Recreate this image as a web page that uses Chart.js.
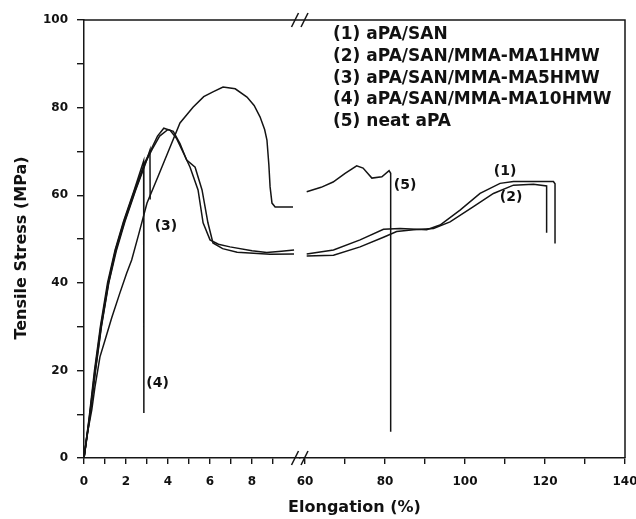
<!DOCTYPE html>
<html>
<head>
<meta charset="utf-8">
<script src="https://cdn.jsdelivr.net/npm/chart.js@4/dist/chart.umd.min.js"></script>
<style>
  html, body { margin: 0; padding: 0; background: #fff; }
</style>
</head>
<body>
<canvas id="myChart" width="636" height="519"></canvas>
<script>
// legend names
let nomes = ['(1) aPA/SAN', '(2) aPA/SAN/MMA-MA1HMW', '(3) aPA/SAN/MMA-MA5HMW', '(4) aPA/SAN/MMA-MA10HMW', '(5) neat aPA'];

// elongation (%) / tensile stress (MPa), left part of the broken axis (0-10 %)
let x1Esq = [0, 0.25, 0.52, 0.8, 1.15, 1.5, 1.9, 2.4, 2.9, 3.2, 3.5, 3.8, 4.1, 4.4, 4.75, 5.05, 5.43, 5.67, 6.0, 6.4, 6.95, 8.0, 8.7, 9.4, 10.0];
let y1Esq = [0, 9, 20, 30, 40, 47.5, 54, 61, 67.5, 70.5, 73.5, 75.3, 74.8, 73, 69.5, 66.4, 61.2, 53.7, 49.8, 48.8, 48.2, 47.3, 46.9, 47.2, 47.5];
let x2Esq = [0, 0.26, 0.54, 0.82, 1.17, 1.52, 1.93, 2.43, 2.93, 3.25, 3.6, 4.0, 4.25, 4.57, 4.89, 5.29, 5.62, 5.9, 6.14, 6.6, 7.29, 8.86, 10.0];
let y2Esq = [0, 9, 20, 30, 40, 47.5, 54, 61, 67.5, 70.5, 73.5, 75.0, 74.6, 71.8, 68.0, 66.4, 61.2, 53.7, 49.1, 47.8, 47.0, 46.5, 46.6];
let x3Esq = [0, 0.27, 0.55, 0.83, 1.18, 1.55, 1.95, 2.45, 2.95, 3.14, 3.15];
let y3Esq = [0, 9, 20, 30, 40, 47.5, 54, 61, 67.5, 70.3, 59];
let x4Esq = [0, 0.24, 0.5, 0.78, 1.12, 1.48, 1.88, 2.38, 2.84, 2.85];
let y4Esq = [0, 9, 20, 30, 40, 47.5, 54, 61, 67.8, 10.3];
let x5Esq = [0, 0.13, 0.37, 0.52, 0.76, 1.0, 1.32, 1.71, 2.03, 2.27, 2.6, 3.0, 3.52, 4.1, 4.57, 5.19, 5.7, 6.14, 6.62, 7.2, 7.76, 8.1, 8.38, 8.6, 8.71, 8.8, 8.86, 8.95, 9.1, 9.95];
let y5Esq = [0, 4.8, 11, 16.2, 23.1, 26.9, 32, 37.7, 42.2, 45.2, 51, 58.2, 64.2, 71, 76.5, 80.1, 82.5, 83.6, 84.7, 84.3, 82.4, 80.5, 77.9, 75, 72.6, 67, 61.9, 58.2, 57.3, 57.3];

// right part of the broken axis (60-140 %)
let x1Dir = [60.4, 67.1, 73.75, 79.6, 83.75, 90.4, 93.75, 98.75, 103.75, 108.75, 112.1, 122.1, 122.5, 122.5];
let y1Dir = [46.6, 47.5, 49.8, 52.2, 52.4, 52.1, 53.2, 56.6, 60.4, 62.7, 63.1, 63.1, 62.6, 49.0];
let x2Dir = [60.4, 67.1, 73.75, 79.6, 82.9, 87.1, 92.1, 96.25, 102.1, 107.1, 112.1, 117.1, 120.4, 120.4];
let y2Dir = [46.1, 46.3, 48.2, 50.4, 51.7, 52.1, 52.4, 53.9, 57.4, 60.4, 62.3, 62.5, 62.1, 51.4];
let x5Dir = [60.4, 64, 67, 70, 72.9, 74.5, 76.7, 79.2, 81.0, 81.4, 81.4];
let y5Dir = [60.8, 61.8, 63, 65, 66.7, 66.2, 63.9, 64.2, 65.6, 65.0, 6.0];

// tick labels
let ticksEsq = [0, 1, 2, 3, 4, 5, 6, 7, 8, 9];
let ticksDir = [60, 70, 80, 90, 100, 110, 120, 130, 140];

const pts = (xs, ys) => xs.map((x, i) => ({ x: x, y: ys[i] }));
const linha = (label, xs, ys, eixo) => ({
    label: label,
    data: pts(xs, ys),
    xAxisID: eixo,
    borderColor: '#141414',
    borderWidth: 1.5,
    pointRadius: 0,
    fill: false,
    tension: 0
});

let dados = {
    datasets: [
        linha(nomes[0], x1Esq, y1Esq, 'xl'),
        linha(nomes[1], x2Esq, y2Esq, 'xl'),
        linha(nomes[2], x3Esq, y3Esq, 'xl'),
        linha(nomes[3], x4Esq, y4Esq, 'xl'),
        linha(nomes[4], x5Esq, y5Esq, 'xl'),
        linha(nomes[0], x1Dir, y1Dir, 'xr'),
        linha(nomes[1], x2Dir, y2Dir, 'xr'),
        linha(nomes[4], x5Dir, y5Dir, 'xr')
    ]
};

const fonte = { family: "'DejaVu Sans', sans-serif", size: 12, weight: 'bold' };
const grade = { drawOnChartArea: false, tickLength: 6, color: '#161616', lineWidth: 1.4 };
const borda = { color: '#161616', width: 1.5 };

// frame, axis break marks, legend text and curve numbers
const enfeites = {
    id: 'enfeites',
    afterDraw(chart) {
        const { ctx, chartArea: a, scales } = chart;
        ctx.save();
        ctx.strokeStyle = '#161616';
        ctx.lineWidth = 1.5;
        ctx.beginPath();
        ctx.moveTo(a.left, a.top);
        ctx.lineTo(a.right, a.top);
        ctx.lineTo(a.right, a.bottom);
        ctx.stroke();

        const bx = scales.xr.left;
        [a.top, a.bottom].forEach(yy => {
            [-4.5, 5].forEach(dx => {
                ctx.beginPath();
                ctx.moveTo(bx + dx - 3.5, yy + 7);
                ctx.lineTo(bx + dx + 3.5, yy - 7);
                ctx.stroke();
            });
        });

        ctx.fillStyle = '#111';
        ctx.textBaseline = 'middle';
        ctx.textAlign = 'left';
        ctx.font = "bold 17px 'DejaVu Sans', sans-serif";
        nomes.forEach((n, i) => ctx.fillText(n, a.left + 249, a.top + 15 + i * 21.6));

        ctx.font = "bold 14px 'DejaVu Sans', sans-serif";
        ctx.textAlign = 'center';
        const marcas = [
            ['(1)', 'xr', 110, 65.5],
            ['(2)', 'xr', 111.5, 59.4],
            ['(3)', 'xl', 3.9, 53],
            ['(4)', 'xl', 3.5, 17],
            ['(5)', 'xr', 85, 62.3]
        ];
        marcas.forEach(m => {
            ctx.fillText(m[0], scales[m[1]].getPixelForValue(m[2]), scales.y.getPixelForValue(m[3]));
        });

        ctx.font = "bold 16px 'DejaVu Sans', sans-serif";
        ctx.fillText('Elongation (%)', (a.left + a.right) / 2, 508);
        ctx.translate(22, 248);
        ctx.rotate(-Math.PI / 2);
        ctx.fillText('Tensile Stress (MPa)', 0, 0);
        ctx.restore();
    }
};

let opcoes = {
    responsive: false,
    animation: false,
    layout: { padding: { top: 20, right: 11, left: 0, bottom: 0 } },
    plugins: { legend: { display: false }, tooltip: { enabled: false } },
    scales: {
        xl: {
            type: 'linear', position: 'bottom', stack: 'x', stackWeight: 215.5,
            min: 0, max: 10.26,
            afterBuildTicks: s => { s.ticks = ticksEsq.map(v => ({ value: v })); },
            afterFit: s => { s.height = 61; s.paddingLeft = 0; s.paddingRight = 0; },
            ticks: { font: fonte, color: '#111', padding: 11, maxRotation: 0, autoSkip: false,
                     callback: v => (v % 2 === 0 ? v : '') },
            grid: grade, border: borda
        },
        xr: {
            type: 'linear', position: 'bottom', stack: 'x', stackWeight: 325.5,
            min: 58.6, max: 140,
            afterBuildTicks: s => { s.ticks = ticksDir.map(v => ({ value: v })); },
            afterFit: s => { s.height = 61; s.paddingLeft = 0; s.paddingRight = 0; },
            ticks: { font: fonte, color: '#111', padding: 11, maxRotation: 0, autoSkip: false,
                     callback: v => (v % 20 === 0 ? v : '') },
            grid: grade, border: borda
        },
        y: {
            type: 'linear', position: 'left', min: 0, max: 100,
            afterFit: s => { s.width = 84; },
            ticks: { stepSize: 10, font: fonte, color: '#111', padding: 9,
                     callback: v => (v % 20 === 0 ? v : '') },
            grid: { drawOnChartArea: false, tickLength: 7, color: '#161616', lineWidth: 1.4 },
            border: borda
        }
    }
};

let ctx = document.getElementById('myChart');
let meuGrafico = new Chart(ctx, {
    type: 'line',
    data: dados,
    options: opcoes,
    plugins: [enfeites]
});
</script>
</body>
</html>
